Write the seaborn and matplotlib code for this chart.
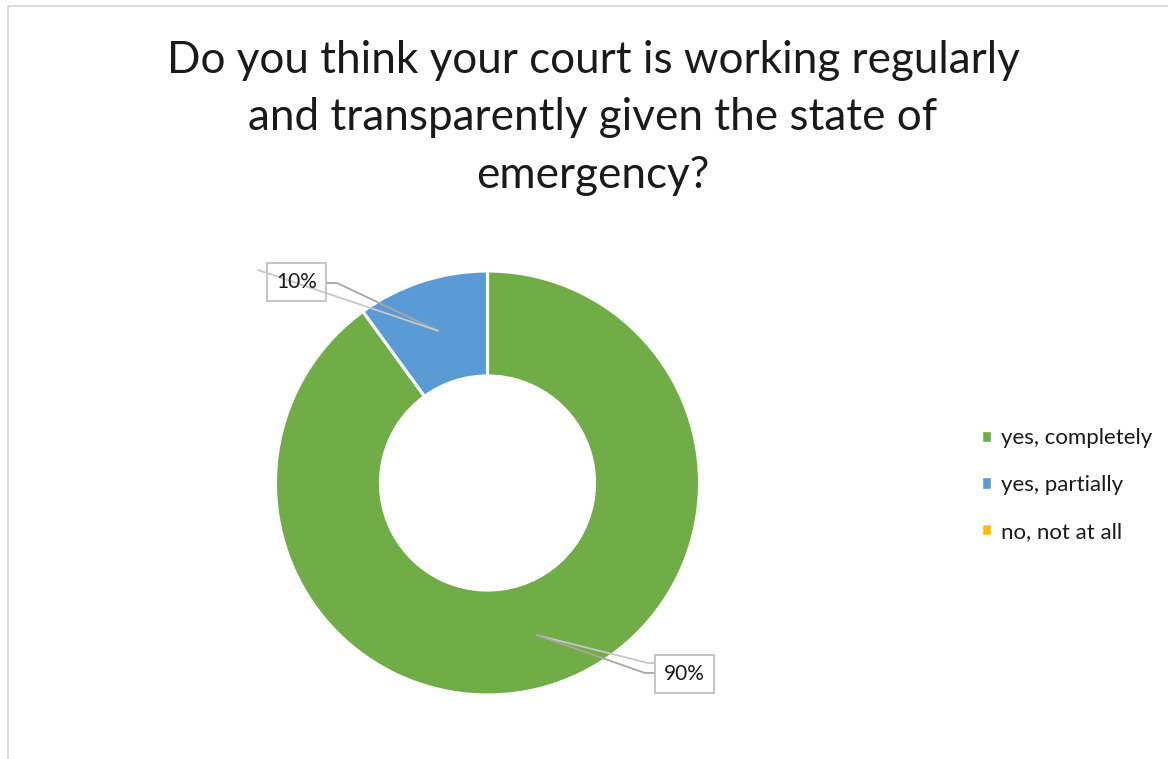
import matplotlib
matplotlib.use("Agg")
import matplotlib.pyplot as plt
from matplotlib.patches import Rectangle, Patch
import numpy as np
import seaborn as sns

# Survey answers
categories = ["yes, completely", "yes, partially", "no, not at all"]
shares = [90, 10, 0]
colors = ["#70AD47", "#5B9BD5", "#FFC000"]
title = ("Do you think your court is working regularly\n"
         "and transparently given the state of\n"
         "emergency?")

sns.set_theme(style="white")
plt.rcParams["font.family"] = ["Lato", "DejaVu Sans"]

W, H = 1168, 759
fig = plt.figure(figsize=(W / 100, H / 100), dpi=100)
ax = fig.add_axes([0, 0, 1, 1])
ax.set_xlim(0, W)
ax.set_ylim(0, H)
ax.axis("off")


def py(y):
    """Convert a top-down pixel row to the axis' y coordinate."""
    return H - y


# Chart-area frame
ax.plot([8, 8], [0, py(6)], color="#D9D9D9", lw=1.3, solid_capstyle="butt")
ax.plot([8, W], [py(6), py(6)], color="#D9D9D9", lw=1.3, solid_capstyle="butt")

cx, cy, R = 487.5, py(483), 212
wedges, _ = ax.pie(
    shares, colors=colors, startangle=90, counterclock=False,
    center=(cx, cy), radius=R,
    wedgeprops=dict(width=R * 0.495, edgecolor="white", linewidth=2.2),
)
ax.set_xlim(0, W)
ax.set_ylim(0, H)
ax.set_aspect("equal")

# Anchor point for each label: middle of the ring at the wedge's mid-angle
total = sum(shares)
start = 90.0
anchors = []
for v in shares:
    sweep = 360.0 * v / total
    mid = np.deg2rad(start - sweep / 2)
    r_mid = 160
    anchors.append((cx + r_mid * np.cos(mid), cy + r_mid * np.sin(mid)))
    start -= sweep

dark, light = "#A6A6A6", "#C8C8C8"

# Label boxes (center x, center pixel row)
boxes = {0: (684.5, 674), 1: (296.5, 282)}
bw, bh = 59, 38

# 10% label and its leader lines
ax_, ay_ = anchors[1]
bx, by = boxes[1]
ax.add_patch(Rectangle((bx - bw / 2, py(by) - bh / 2), bw, bh, facecolor="white",
                       edgecolor="#BFBFBF", lw=1.3, zorder=4))
ax.plot([ax_, 337, bx + bw / 2], [ay_, py(283), py(283)], color=dark, lw=1.3, zorder=3)
ax.plot([ax_, 258], [ay_, py(270)], color=light, lw=1.3, zorder=5)
ax.text(bx, py(by), f"{shares[1]}%", ha="center", va="center", fontsize=15,
        color="#1A1A1A", zorder=6)

# 90% label and its leader lines
ax_, ay_ = anchors[0]
bx, by = boxes[0]
ax.add_patch(Rectangle((bx - bw / 2, py(by) - bh / 2), bw, bh, facecolor="white",
                       edgecolor="#BFBFBF", lw=1.3, zorder=4))
ax.plot([ax_, 648, bx - bw / 2], [ay_, py(663), py(663)], color=light, lw=1.3, zorder=3)
ax.plot([ax_, 645, bx - bw / 2], [ay_, py(673), py(673)], color=dark, lw=1.3, zorder=3)
ax.text(bx, py(by), f"{shares[0]}%", ha="center", va="center", fontsize=15,
        color="#1A1A1A", zorder=6)

# Title
ax.text(593, py(40), title, ha="center", va="top", fontsize=31.7,
        linespacing=1.5, color="#1A1A1A")

# Legend
handles = [Patch(facecolor=w.get_facecolor()) for w in wedges]
ax.legend(handles, categories, loc="center left",
          bbox_to_anchor=(982 / W, py(485) / H), bbox_transform=fig.transFigure,
          frameon=False, fontsize=16, handlelength=0.42, handleheight=0.42,
          handletextpad=0.42, labelspacing=1.2, borderpad=0, borderaxespad=0,
          labelcolor="#1A1A1A")

fig.savefig("out.png", dpi=100, facecolor="white")
